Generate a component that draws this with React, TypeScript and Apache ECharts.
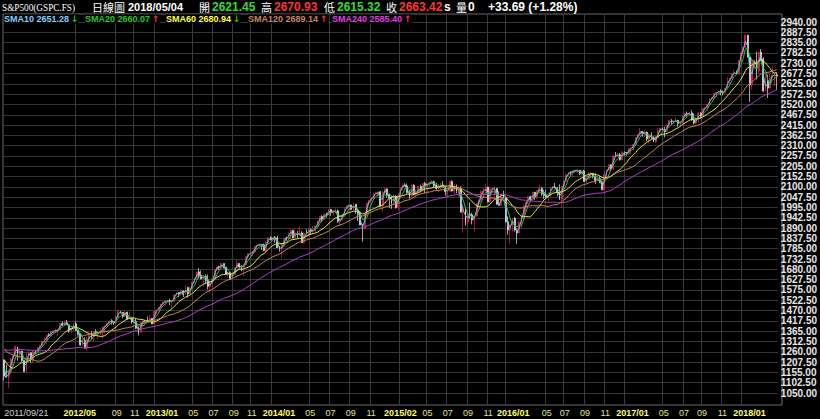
import React, { useEffect, useRef } from "react";
import * as echarts from "echarts";

// Weekly closes before the visible range (used only to warm up the long moving averages)
const warmupCloses = [1183,1183,1225,1199,1199,1189,1224,1240,1243,1256,1258,1271,1293,1283,1276,1310,1329,1343,1320,1321,1304,1279,1313,1332,1329,1320,1337,1364,1340,1338,1333,1331,1300,1271,1271,1268,1340,1344,1316,1345,1292,1199,1179,1124,1177,1174,1154,1216];

// Visible weeks: [close, high, low]; open = previous week's close
const weeks2011 = [[1136,1220,1114],[1131,1195,1128],[1155,1171,1074],[1225,1225,1146],[1238,1239,1191],[1285,1293,1220],[1253,1285,1215],[1264,1277,1226],[1216,1264,1209],[1159,1216,1158],[1244,1255,1158],[1255,1267,1212],[1220,1255,1202],[1265,1266,1205],[1258,1269,1248]];
const weeks2012 = [[1278,1285,1258],[1289,1296,1274],[1315,1316,1289],[1316,1333,1306],[1345,1345,1300],[1342,1354,1337],[1361,1363,1340],[1366,1368,1355],[1370,1378,1354],[1371,1374,1340],[1404,1405,1370],[1397,1414,1391],[1408,1419,1391],[1398,1422,1397],[1370,1398,1357],[1378,1392,1358],[1403,1406,1366],[1369,1415,1367],[1353,1370,1343],[1295,1356,1291],[1318,1328,1291],[1278,1334,1277],[1325,1335,1266],[1343,1343,1306],[1335,1364,1324],[1362,1363,1309],[1355,1375,1348],[1357,1357,1325],[1363,1380,1345],[1386,1390,1329],[1391,1394,1354],[1406,1407,1391],[1418,1418,1400],[1412,1426,1398],[1407,1414,1397],[1438,1438,1396],[1466,1475,1429],[1460,1467,1455],[1441,1460,1430],[1461,1470,1437],[1428,1464,1425],[1433,1464,1427],[1412,1433,1403],[1414,1434,1403],[1380,1429,1376],[1360,1388,1343],[1409,1409,1358],[1416,1419,1385],[1418,1423,1398],[1414,1439,1411],[1430,1448,1412],[1402,1430,1401]];
const weeks2013 = [[1466,1467,1401],[1472,1472,1451],[1486,1486,1461],[1503,1503,1482],[1513,1514,1496],[1518,1518,1495],[1520,1524,1513],[1516,1530,1498],[1518,1525,1485],[1551,1552,1516],[1561,1563,1547],[1556,1563,1538],[1569,1570,1546],[1553,1573,1539],[1588,1597,1548],[1555,1589,1536],[1582,1592,1555],[1614,1618,1577],[1633,1635,1613],[1667,1667,1626],[1650,1687,1635],[1631,1674,1630],[1643,1648,1598],[1626,1654,1609],[1593,1654,1577],[1606,1620,1560],[1632,1632,1604],[1680,1680,1632],[1692,1693,1672],[1691,1698,1676],[1710,1710,1681],[1691,1710,1684],[1656,1693,1654],[1664,1669,1640],[1633,1664,1627],[1655,1664,1633],[1688,1689,1655],[1710,1730,1687],[1692,1711,1686],[1691,1700,1670],[1703,1703,1646],[1745,1745,1701],[1760,1760,1740],[1762,1775,1752],[1770,1770,1746],[1798,1798,1761],[1804,1804,1780],[1806,1813,1799],[1805,1806,1779],[1775,1811,1772],[1818,1823,1767],[1841,1844,1815]];
const weeks2014 = [[1832,1849,1827],[1842,1843,1823],[1839,1850,1815],[1790,1850,1790],[1783,1799,1770],[1797,1798,1738],[1838,1841,1792],[1836,1847,1826],[1859,1867,1834],[1878,1883,1834],[1841,1882,1840],[1866,1884,1840],[1857,1875,1839],[1865,1897,1850],[1815,1873,1814],[1864,1869,1814],[1863,1884,1859],[1881,1891,1851],[1878,1889,1859],[1878,1902,1862],[1900,1901,1868],[1924,1924,1900],[1949,1950,1915],[1936,1955,1925],[1962,1964,1930],[1961,1968,1944],[1985,1985,1958],[1968,1986,1952],[1978,1983,1955],[1978,1991,1965],[1925,1985,1916],[1931,1942,1904],[1955,1964,1928],[1988,1994,1955],[2003,2006,1988],[2008,2011,1991],[1985,2009,1980],[2011,2019,1978],[1982,2012,1962],[1968,1986,1926],[1906,1977,1906],[1886,1912,1821],[1965,1966,1886],[2018,2018,1950],[2032,2034,2001],[2040,2046,2030],[2064,2071,2034],[2068,2075,2064],[2075,2076,2049],[2003,2079,2002],[2071,2077,1973],[2089,2094,2070]];
const weeks2015 = [[2058,2093,2046],[2045,2065,1992],[2019,2056,1988],[2051,2064,2005],[1995,2058,1989],[2055,2072,1981],[2097,2097,2041],[2110,2110,2085],[2105,2119,2103],[2071,2117,2066],[2053,2083,2039],[2108,2114,2047],[2061,2114,2056],[2067,2088,2048],[2102,2102,2057],[2081,2111,2072],[2117,2120,2078],[2108,2126,2067],[2116,2117,2067],[2123,2126,2099],[2126,2134,2117],[2107,2133,2099],[2092,2121,2085],[2095,2115,2072],[2110,2120,2085],[2101,2129,2098],[2077,2102,2056],[2077,2078,2044],[2127,2129,2076],[2079,2133,2077],[2104,2114,2063],[2078,2112,2067],[2092,2105,2052],[1971,2103,1970],[1989,1989,1867],[1921,1993,1903],[1961,1975,1910],[1958,2021,1937],[1931,1968,1909],[1951,1953,1872],[2015,2020,1951],[2033,2034,1990],[2075,2080,2022],[2079,2094,2061],[2099,2116,2077],[2023,2100,2022],[2089,2097,2020],[2090,2095,2070],[2092,2104,2042],[2012,2093,2008],[2006,2077,2005],[2061,2067,2005],[2044,2081,2043]];
const weeks2016 = [[1922,2044,1918],[1880,1950,1857],[1907,1908,1812],[1940,1940,1872],[1880,1947,1872],[1865,1881,1810],[1918,1931,1865],[1948,1963,1891],[2000,2009,1932],[2022,2022,1969],[2050,2052,2013],[2036,2056,2022],[2073,2075,2028],[2048,2073,2034],[2081,2083,2039],[2092,2112,2074],[2065,2100,2053],[2057,2084,2039],[2047,2084,2045],[2053,2071,2026],[2099,2101,2052],[2099,2104,2085],[2096,2120,2092],[2071,2096,2051],[2037,2113,2033],[2103,2103,1992],[2130,2132,2074],[2162,2169,2128],[2175,2175,2156],[2174,2178,2155],[2183,2183,2148],[2184,2188,2172],[2184,2193,2169],[2169,2187,2160],[2180,2184,2157],[2128,2187,2127],[2139,2150,2120],[2165,2175,2139],[2168,2172,2145],[2153,2169,2142],[2133,2169,2115],[2141,2155,2131],[2126,2154,2119],[2085,2133,2084],[2164,2183,2084],[2182,2189,2156],[2213,2214,2182],[2192,2214,2187],[2260,2260,2187],[2259,2278,2252],[2264,2274,2255],[2239,2273,2234]];
const weeks2017 = [[2277,2283,2234],[2275,2280,2258],[2271,2277,2259],[2295,2300,2263],[2297,2297,2267],[2316,2318,2288],[2351,2352,2311],[2367,2367,2345],[2383,2401,2358],[2373,2383,2356],[2378,2390,2354],[2344,2382,2333],[2363,2371,2322],[2355,2378,2344],[2329,2358,2328],[2349,2361,2322],[2384,2398,2349],[2399,2399,2379],[2391,2403,2389],[2382,2406,2353],[2416,2419,2380],[2439,2440,2407],[2432,2446,2416],[2433,2441,2419],[2438,2454,2431],[2423,2442,2406],[2425,2434,2407],[2459,2463,2415],[2473,2478,2453],[2472,2484,2459],[2477,2480,2466],[2441,2490,2437],[2426,2474,2418],[2443,2454,2417],[2477,2480,2428],[2461,2480,2446],[2500,2500,2459],[2502,2509,2496],[2519,2519,2488],[2549,2552,2519],[2553,2557,2543],[2575,2575,2547],[2581,2582,2557],[2588,2589,2566],[2582,2597,2566],[2579,2591,2566],[2602,2605,2576],[2642,2658,2600],[2652,2652,2624],[2676,2679,2649],[2683,2695,2673],[2674,2692,2673]];
const weeks2018 = [[2743,2744,2673],[2786,2787,2737],[2810,2811,2769],[2873,2873,2808],[2762,2873,2760],[2620,2763,2533],[2732,2754,2594],[2747,2747,2699],[2691,2789,2647],[2786,2786,2681],[2752,2802,2742],[2588,2761,2585],[2641,2675,2586],[2604,2672,2553],[2656,2680,2600],[2670,2717,2655],[2670,2683,2613],[2663,2682,2594]];

const firstLabel = "2011/09/21";
const tickLabels = ["2012/05","2012/09","2012/11","2013/01","2013/05","2013/07","2013/09","2013/11","2014/01","2014/05","2014/07","2014/09","2014/11","2015/02","2015/05","2015/07","2015/09","2015/11","2016/01","2016/05","2016/07","2016/09","2016/11","2017/01","2017/05","2017/07","2017/09","2017/11","2018/01"];
const yTicksMin = 1050;
const yTicksMax = 2940;
const yTickStep = 52.5;

const smaNames = ["SMA10", "SMA20", "SMA60", "SMA120", "SMA240"];
const smaWeeks = [2, 4, 12, 24, 48]; // weekly equivalent of 10/20/60/120/240 trading days
const smaColors = ["#66c8f0", "#2ec02e", "#e6e640", "#c08858", "#b040c8"];
const smaLabelColors = ["#7fd0f8", "#22cc22", "#ffff44", "#c8865a", "#e040e0"];
const smaValues = ["2651.28", "2660.07", "2680.94", "2689.14", "2585.40"];
const smaArrows = ["↓", "↑", "↓", "↑", "↑"];

const pad = (n: number) => (n < 10 ? "0" + n : "" + n);

export default function App() {
  const ref = useRef<HTMLDivElement>(null);
  useEffect(() => {
    if (!ref.current) return;
    const chart = echarts.init(ref.current, undefined, { renderer: "svg" });

    const weeks = [...weeks2011, ...weeks2012, ...weeks2013, ...weeks2014, ...weeks2015, ...weeks2016, ...weeks2017, ...weeks2018];
    const dates = weeks.map((_, i) => {
      const d = new Date(Date.UTC(2011, 8, 23 + 7 * i));
      return `${d.getUTCFullYear()}/${pad(d.getUTCMonth() + 1)}/${pad(d.getUTCDate())}`;
    });
    const ohlc = weeks.map((w, i) => {
      const open = i === 0 ? warmupCloses[warmupCloses.length - 1] : weeks[i - 1][0];
      return [open, w[0], w[2], w[1]];
    });
    const allCloses = [...warmupCloses, ...weeks.map((w) => w[0])];
    const W = warmupCloses.length;
    const smaSeries = smaWeeks.map((p) =>
      weeks.map((_, i) => {
        let s = 0;
        for (let j = W + i - p + 1; j <= W + i; j++) s += allCloses[j];
        return +(s / p).toFixed(2);
      })
    );

    const labelText: Record<number, string> = { 0: `{d|${firstLabel}}` };
    const seenYears = new Set<string>();
    tickLabels.forEach((t) => {
      const idx = dates.findIndex((d) => d.slice(0, 7) === t);
      if (idx < 0) return;
      const yr = t.slice(0, 4);
      if (!seenYears.has(yr)) {
        seenYears.add(yr);
        const m = t.slice(5);
        labelText[idx] = m === "01" ? `{y1|${t}}` : m === "05" ? `{y5|${t}}` : `{y|${t}}`;
      } else {
        labelText[idx] = `{m|${t.slice(5)}}`;
      }
    });
    const showIdx = (i: number) => labelText[i] !== undefined;

    const hdr = (x: number, text: string, fill: string, font: string, extra: any = {}) => ({
      type: "text",
      x,
      y: 7,
      ...extra,
      style: { text, fill, font, verticalAlign: "middle" },
    });
    const numFont = 'bold 12px "Liberation Sans", Arial, sans-serif';
    const cjkFont = '11px "Noto Sans CJK TC", sans-serif';

    const graphics: any[] = [
      hdr(2, "S&P500(GSPC.FS)", "#ffffff", '11px "Liberation Serif", serif', { scaleX: 0.84 }),
      hdr(92, "日線圖", "#ffffff", cjkFont),
      hdr(128, "2018/05/04", "#ffffff", 'bold 11px "Liberation Sans", Arial, sans-serif'),
      hdr(199, "開", "#ffffff", cjkFont),
      hdr(212, "2621.45", "#33dd33", numFont),
      hdr(261, "高", "#ffffff", cjkFont),
      hdr(274, "2670.93", "#ff3333", numFont),
      hdr(324, "低", "#ffffff", cjkFont),
      hdr(337, "2615.32", "#33dd33", numFont),
      hdr(386, "收", "#ffffff", cjkFont),
      hdr(399, "2663.42", "#ff3333", numFont),
      hdr(444, "s", "#ffffff", numFont),
      hdr(456, "量", "#ffffff", cjkFont),
      hdr(468, "0", "#ffffff", numFont),
      hdr(488, "+33.69 (+1.28%)", "#ffffff", numFont),
    ];
    const legendX = [4, 85, 166, 248, 332];
    smaNames.forEach((n, k) => {
      graphics.push({
        type: "text",
        x: legendX[k],
        y: 19,
        z: 100,
        style: {
          text: `{t|${n} ${smaValues[k]}}{a|${smaArrows[k]}}`,
          verticalAlign: "middle",
          backgroundColor: "#000",
          rich: {
            t: { fill: smaLabelColors[k], font: 'bold 9px "Liberation Sans", Arial, sans-serif' },
            a: { fill: smaArrows[k] === "↑" ? "#ff3333" : "#22cc22", font: 'bold 9px "DejaVu Sans", sans-serif', padding: [0, 0, 0, 2] },
          },
        },
      });
    });

    const yearStyle = { color: "#ffff66", fontSize: 9, fontWeight: "bold", fontFamily: "Liberation Sans" };
    const option: any = {
      animation: false,
      backgroundColor: "#000000",
      graphic: graphics,
      grid: [
        { left: 3, right: 38, top: 14, bottom: 14, show: true, borderColor: "#6a6a6a", borderWidth: 1, backgroundColor: "transparent" },
        { left: 3, right: 38, top: 22, bottom: 26 },
      ],
      xAxis: [
        {
          type: "category",
          gridIndex: 0,
          data: dates,
          boundaryGap: true,
          axisLine: { show: false },
          axisTick: { show: false },
          splitLine: { show: true, interval: (i: number) => i > 0 && showIdx(i), lineStyle: { color: "#3a3a3a", width: 1 } },
          axisLabel: {
            interval: (i: number) => showIdx(i),
            formatter: (_v: string, i: number) => labelText[i] || "",
            margin: 3,
            hideOverlap: false,
            alignMinLabel: "left",
            rich: {
              d: { color: "#d0d0d0", fontSize: 9, fontFamily: "Liberation Sans" },
              y: yearStyle,
              y1: { ...yearStyle, padding: [0, 0, 0, 14] },
              y5: { ...yearStyle, padding: [0, 0, 0, 7] },
              m: { color: "#e0e090", fontSize: 9, fontFamily: "Liberation Sans" },
            },
          },
        },
        { type: "category", gridIndex: 1, data: dates, boundaryGap: true, show: false },
      ],
      yAxis: [
        { type: "value", gridIndex: 0, min: 0, max: 1, show: false },
        {
          type: "value",
          gridIndex: 1,
          position: "right",
          min: yTicksMin,
          max: yTicksMax,
          interval: yTickStep,
          axisLine: { show: false },
          axisTick: { show: false },
          splitLine: { show: true, lineStyle: { color: "#363636", width: 1 } },
          axisLabel: {
            formatter: (v: number) => v.toFixed(2),
            color: "#e8e8e8",
            fontSize: 10,
            fontWeight: "bold",
            fontFamily: "Liberation Sans",
            margin: 3,
          },
        },
      ],
      series: [
        {
          type: "candlestick",
          xAxisIndex: 1,
          yAxisIndex: 1,
          data: ohlc,
          barWidth: "60%",
          clip: false,
          itemStyle: {
            color: "#e8204c",
            color0: "#f2e4e8",
            borderColor: "#e8204c",
            borderColor0: "#f2e4e8",
            borderWidth: 0.7,
          },
          z: 3,
        },
        ...smaSeries.map((d, k) => ({
          type: "line",
          name: smaNames[k],
          xAxisIndex: 1,
          yAxisIndex: 1,
          data: d,
          showSymbol: false,
          symbol: "none",
          smooth: false,
          lineStyle: { color: smaColors[k], width: 1 },
          z: 4 + k,
        })),
      ],
    };
    chart.setOption(option);
    return () => chart.dispose();
  }, []);
  return (
    <div
      ref={ref}
      style={{ position: "fixed", left: 0, top: 0, width: 820, height: 419, background: "#000" }}
    />
  );
}
